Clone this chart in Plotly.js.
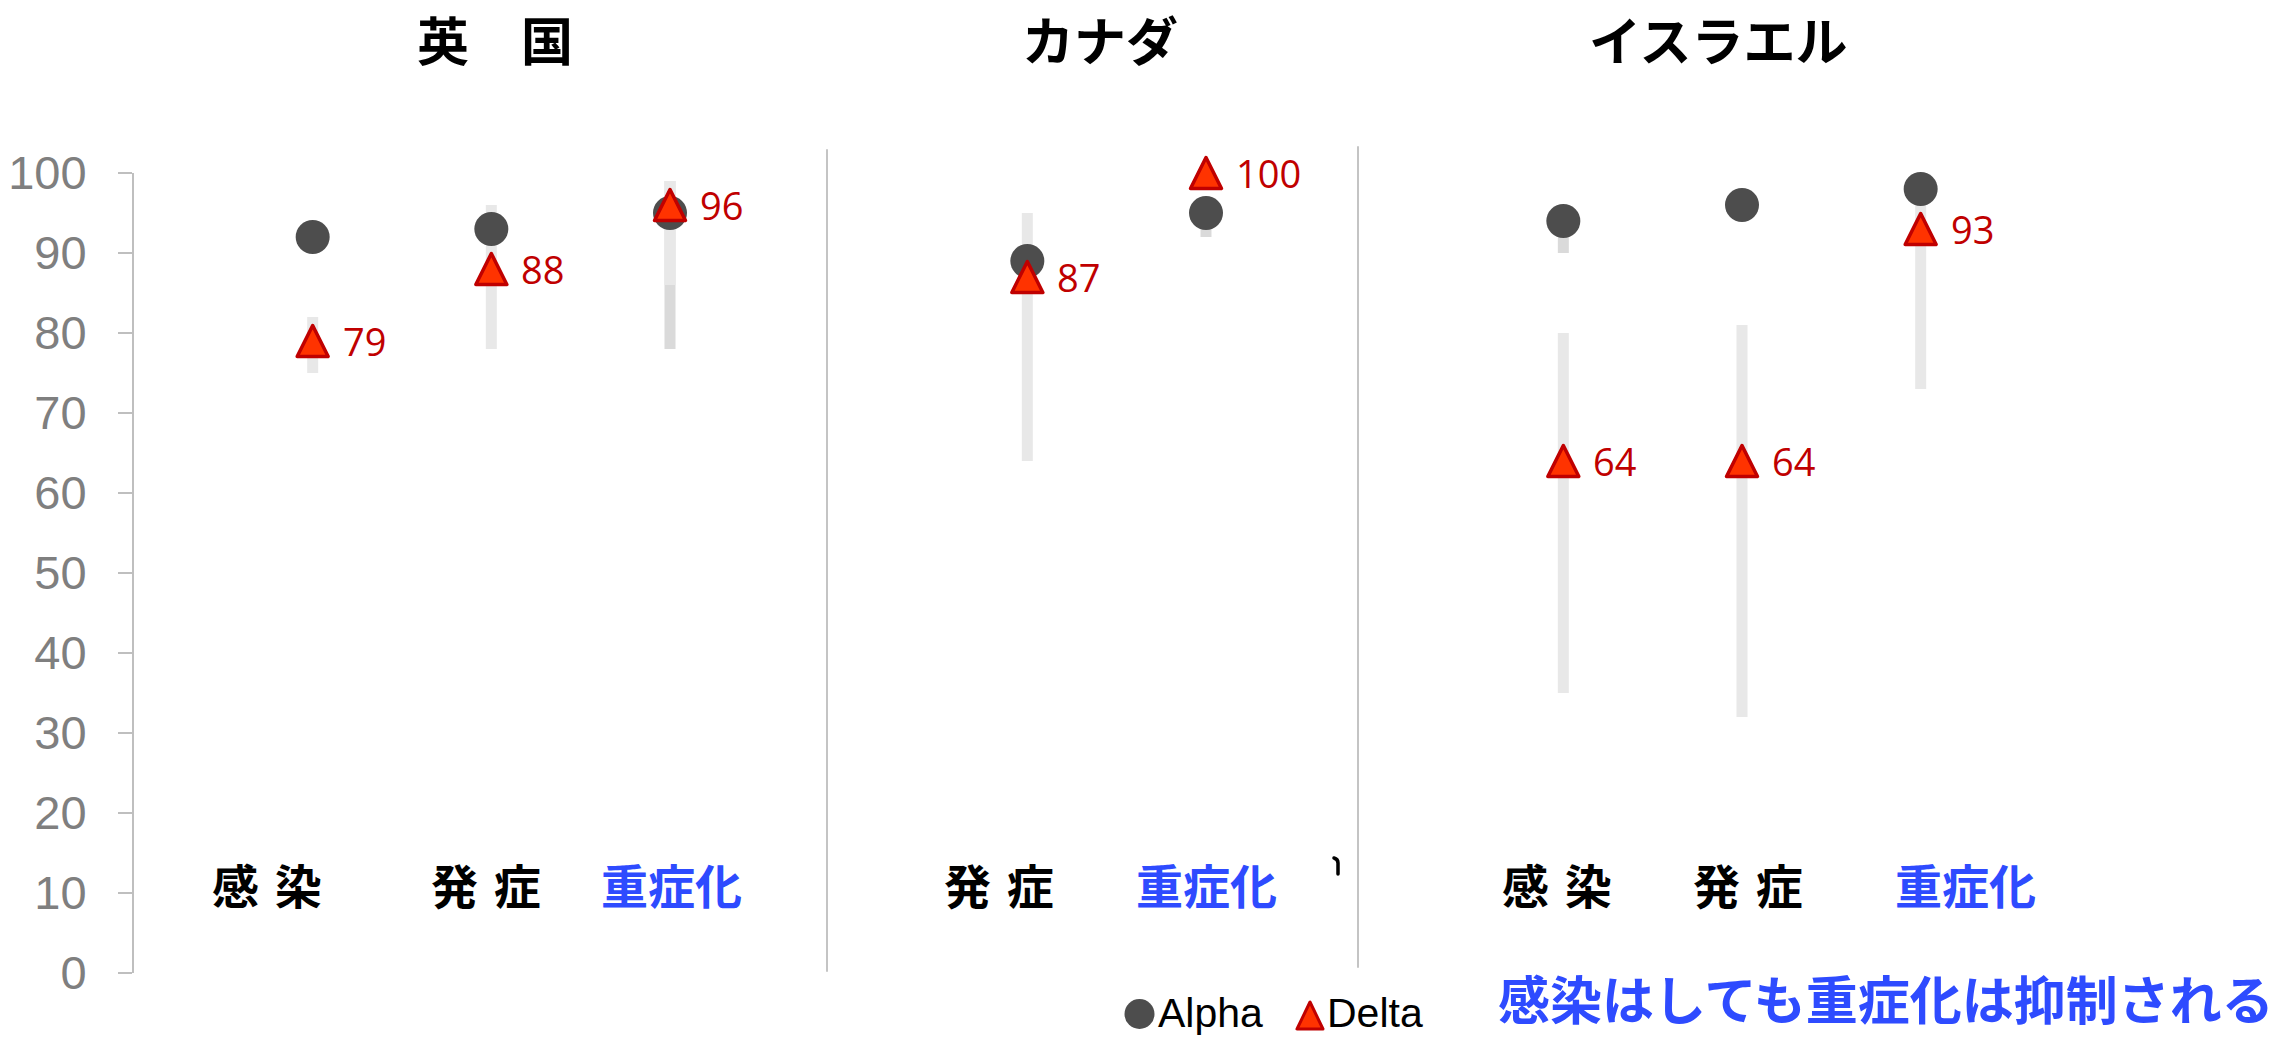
<!DOCTYPE html>
<html>
<head>
<meta charset="utf-8">
<script src="https://cdn.plot.ly/plotly-3.0.1.min.js"></script>
<style>
html, body { margin: 0; padding: 0; background: #ffffff; }
#chart { width: 2290px; height: 1038px; }
.scatterlayer path.point { stroke-linejoin: round; }
.shapelayer path { stroke-linejoin: round; stroke-linecap: round; }
</style>
</head>
<body>
<div id="chart"></div>
<script>
// ---------------- data ----------------
const countries = ['英　国', 'カナダ', 'イスラエル'];
const stages = ['感染', '発症', '重症化'];
const stageLabels = ['感\u2004染', '発\u2004症', '重症化'];
const seriesNames = ['Alpha', 'Delta'];

// vaccine effectiveness (%) per stage: 感染, 発症, 重症化 (null = not reported)
const alphaUK = [92, 93, 95];
const alphaCanada = [null, 89, 95];
const alphaIsrael = [94, 96, 98];
const deltaUK = [79, 88, 96];
const deltaCanada = [null, 87, 100];
const deltaIsrael = [64, 64, 93];

// 95% confidence intervals [low, high]
const alphaCiUK = [null, null, [78, 99]];
const alphaCiCanada = [null, null, [92, 97]];
const alphaCiIsrael = [[90, 96], null, null];
const deltaCiUK = [[75, 82], [78, 96], [86, 99]];
const deltaCiCanada = [null, [64, 95], null];
const deltaCiIsrael = [[35, 80], [32, 81], [73, 96]];

const yTicks = [0, 10, 20, 30, 40, 50, 60, 70, 80, 90, 100];
const note = '感染はしても重症化は抑制される';

// ---------------- layout helpers (positions / styles) ----------------
const W = 2290, H = 1038;
const M = { l: 134, r: 12, t: 173, b: 65 };
const plotW = W - M.l - M.r, plotH = H - M.t - M.b;
const px = x => (x - M.l) / plotW;          // pixel -> paper x
const py = y => (H - M.b - y) / plotH;      // pixel -> paper y
const labelShift = [[-46, -5, 1], [0, -28, 0], [-6, 6, 45]];
const titleX = [495, 1100, 1718];
const dividerX = [827, 1358];
const BLUE = '#2e4bff';
const JP = '"Noto Sans CJK JP", "Noto Sans CJK SC", sans-serif';
const LAT = '"Liberation Sans", Arial, sans-serif';

const alphaAll = [alphaUK, alphaCanada, alphaIsrael];
const deltaAll = [deltaUK, deltaCanada, deltaIsrael];
const alphaCiAll = [alphaCiUK, alphaCiCanada, alphaCiIsrael];
const deltaCiAll = [deltaCiUK, deltaCiCanada, deltaCiIsrael];

// build category slots (one gap slot after each country)
const cats = [];
const slot = [];
countries.forEach((c, ci) => {
  stages.forEach((s, si) => {
    if (alphaAll[ci][si] !== null || deltaAll[ci][si] !== null) {
      const key = c + '|' + s;
      cats.push(key);
      slot.push({ ci, si, key });
    }
  });
  cats.push('gap' + ci);
});

function pointTrace(vals, name, marker) {
  const x = [], y = [];
  slot.forEach(o => { const v = vals[o.ci][o.si]; if (v !== null) { x.push(o.key); y.push(v); } });
  return { type: 'scatter', mode: 'markers', name, x, y, marker, cliponaxis: false, hoverinfo: 'x+y' };
}
function ciTrace(cis, color) {
  const x = [], y = [];
  slot.forEach(o => {
    const r = cis[o.ci][o.si];
    if (r) { x.push(o.key, o.key, null); y.push(r[0], r[1], null); }
  });
  return { type: 'scatter', mode: 'lines', x, y, line: { color, width: 11 }, connectgaps: false,
           hoverinfo: 'skip', showlegend: false, cliponaxis: false };
}

const traces = [
  ciTrace(alphaCiAll, '#dadada'),
  ciTrace(deltaCiAll, '#e8e8e8'),
  pointTrace(alphaAll, seriesNames[0], { symbol: 'circle', size: 34, color: '#4d4d4d', line: { width: 0 } }),
  pointTrace(deltaAll, seriesNames[1], { symbol: 'arrow-down', angle: 180, standoff: 15.5, size: 31,
                                         color: '#ff3300', line: { color: '#c00000', width: 3.5 } })
];

const annotations = [];
// data labels for Delta
slot.forEach(o => {
  const v = deltaAll[o.ci][o.si];
  if (v !== null) annotations.push({ x: o.key, y: v, xref: 'x', yref: 'y', text: String(v), showarrow: false,
    xanchor: 'left', yanchor: 'middle', xshift: 28, font: { family: '"Open Sans", sans-serif', size: 38, color: '#c00000' } });
});
// stage labels
slot.forEach(o => {
  annotations.push({ x: o.key, y: 11.2, xref: 'x', yref: 'y', text: stageLabels[o.si], showarrow: false,
    xanchor: 'center', yanchor: 'middle', xshift: labelShift[o.ci][o.si],
    font: { family: JP, size: 47, weight: 700, color: stages[o.si] === '重症化' ? BLUE : '#000000' } });
});
// country titles
countries.forEach((c, ci) => {
  annotations.push({ x: px(titleX[ci]), y: py(38), xref: 'paper', yref: 'paper', text: c, showarrow: false,
    xanchor: 'center', yanchor: 'middle', font: { family: JP, size: 52, weight: 700, color: '#000000' } });
});
// legend texts
annotations.push({ x: px(1156), y: py(1013), xref: 'paper', yref: 'paper', text: seriesNames[0], showarrow: false,
  xanchor: 'left', yanchor: 'middle', font: { family: LAT, size: 41, color: '#000000' } });
annotations.push({ x: px(1325), y: py(1013), xref: 'paper', yref: 'paper', text: seriesNames[1], showarrow: false,
  xanchor: 'left', yanchor: 'middle', font: { family: LAT, size: 41, color: '#000000' } });
// note
annotations.push({ x: px(1496), y: py(997), xref: 'paper', yref: 'paper', text: note, showarrow: false,
  xanchor: 'left', yanchor: 'middle', font: { family: JP, size: 52, weight: 700, color: BLUE } });

const shapes = [
  { type: 'line', xref: 'paper', yref: 'paper', x0: px(dividerX[0]), x1: px(dividerX[0]), y0: py(971), y1: py(150),
    line: { color: '#c4c4c4', width: 2 } },
  { type: 'line', xref: 'paper', yref: 'paper', x0: px(dividerX[1]), x1: px(dividerX[1]), y0: py(967), y1: py(147),
    line: { color: '#c4c4c4', width: 2 } },
  // legend symbols
  { type: 'circle', xref: 'paper', yref: 'paper', x0: px(1124.5), x1: px(1154.5), y0: py(1029), y1: py(999),
    fillcolor: '#4d4d4d', line: { width: 0 } },
  { type: 'path', xref: 'paper', yref: 'paper',
    path: `M ${px(1310)},${py(1002)} L ${px(1297)},${py(1029)} L ${px(1323)},${py(1029)} Z`,
    fillcolor: '#ff3300', line: { color: '#c00000', width: 3 } },
  // small stray stroke present in the original
  { type: 'path', xref: 'paper', yref: 'paper',
    path: `M ${px(1334)},${py(858)} Q ${px(1338)},${py(859)} ${px(1338)},${py(863)} L ${px(1338)},${py(874)}`,
    line: { color: '#000000', width: 3.5 } }
];

const layout = {
  width: W, height: H,
  margin: M,
  paper_bgcolor: '#ffffff', plot_bgcolor: '#ffffff',
  showlegend: false,
  xaxis: { type: 'category', categoryorder: 'array', categoryarray: cats, range: [-1, cats.length],
           showticklabels: false, showgrid: false, zeroline: false, showline: false, ticks: '', fixedrange: true },
  yaxis: { range: [0, 100], tickvals: yTicks, ticktext: yTicks.map(String), showgrid: false, zeroline: false,
           showline: true, linecolor: '#bfbfbf', linewidth: 2, ticks: 'outside', ticklen: 14, tickwidth: 2,
           tickcolor: '#bfbfbf', ticklabelstandoff: 22,
           tickfont: { family: LAT, size: 47, color: '#7f7f7f' } },
  annotations, shapes
};

Plotly.newPlot('chart', traces, layout, { staticPlot: true, displayModeBar: false });
</script>
</body>
</html>
